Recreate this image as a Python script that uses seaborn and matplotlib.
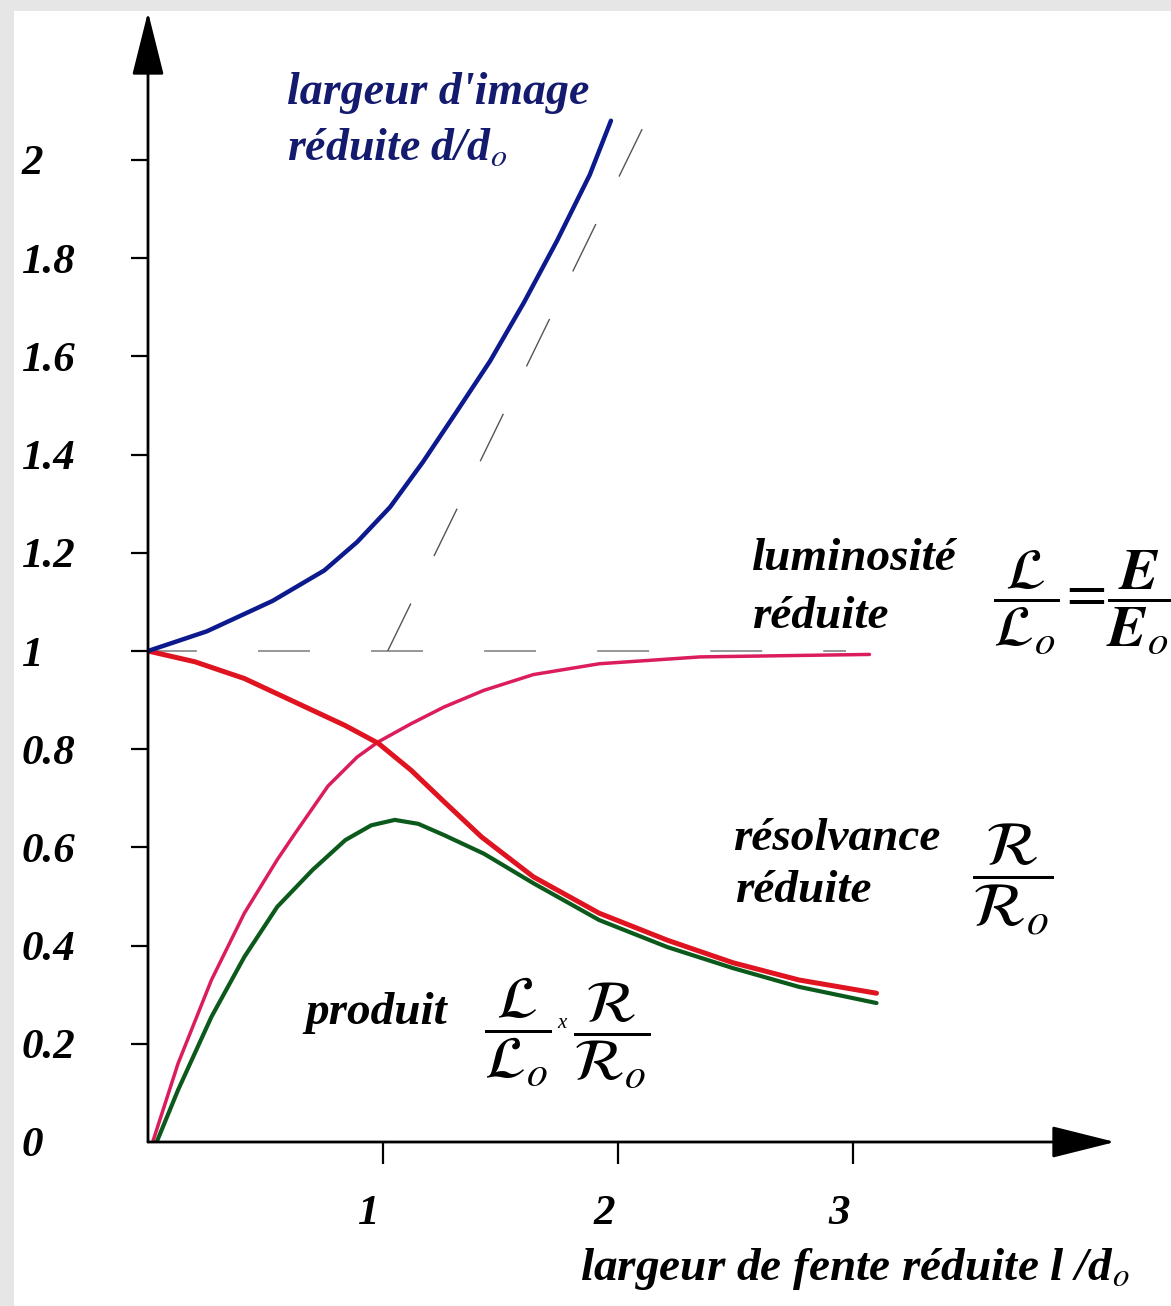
import numpy as np
import pandas as pd
import matplotlib
matplotlib.use("Agg")
import matplotlib.pyplot as plt
import matplotlib.transforms as mtransforms
from matplotlib.patches import Rectangle
from matplotlib.mathtext import MathTextParser
import seaborn as sns

# ---------------- data ----------------
x_largeur = [0.0, 0.25, 0.53, 0.75, 0.89, 1.03, 1.17, 1.31, 1.455, 1.60, 1.74, 1.88, 1.97]
y_largeur = [1.0, 1.04, 1.102, 1.164, 1.222, 1.293, 1.385, 1.485, 1.59, 1.71, 1.835, 1.97, 2.08]

x_lum = [0.02, 0.128, 0.27, 0.41, 0.55, 0.625, 0.766, 0.89, 0.98, 1.12, 1.26, 1.43, 1.64, 1.92, 2.35, 3.07]
y_lum = [0.0, 0.16, 0.33, 0.466, 0.575, 0.628, 0.725, 0.784, 0.815, 0.852, 0.886, 0.92, 0.952, 0.974, 0.988, 0.993]

x_res = [0.0, 0.2, 0.41, 0.625, 0.84, 0.98, 1.12, 1.26, 1.42, 1.64, 1.92, 2.21, 2.49, 2.77, 3.10]
y_res = [1.0, 0.978, 0.944, 0.896, 0.848, 0.812, 0.757, 0.693, 0.621, 0.54, 0.466, 0.411, 0.365, 0.33, 0.303]

x_prod = [0.037, 0.128, 0.27, 0.41, 0.55, 0.70, 0.84, 0.95, 1.05, 1.15, 1.26, 1.43, 1.64, 1.92, 2.21, 2.49, 2.77, 3.10]
y_prod = [0.0, 0.106, 0.255, 0.377, 0.479, 0.554, 0.615, 0.645, 0.656, 0.648, 0.625, 0.587, 0.527, 0.452, 0.397, 0.354, 0.316, 0.283]

x_horiz = [0.0, 2.97]
y_horiz = [1.0, 1.0]
x_asym = [1.02, 2.11]
y_asym = [1.0, 2.07]

x_ticks = [1, 2, 3]
x_ticklabels = ["1", "2", "3"]
y_ticks = [0, 0.2, 0.4, 0.6, 0.8, 1.0, 1.2, 1.4, 1.6, 1.8, 2.0]
y_ticklabels = ["0", "0.2", "0.4", "0.6", "0.8", "1", "1.2", "1.4", "1.6", "1.8", "2"]

# ---------------- style ----------------
sns.set_theme(style="white")
plt.rcParams["font.family"] = ["Liberation Serif", "DejaVu Serif"]
plt.rcParams["mathtext.fontset"] = "stix"

# bold-italic E if this matplotlib's mathtext supports it
bfE = r"\mathbf{E}"
try:
    MathTextParser("path").parse(r"$\mathbfit{E}$")
    bfE = r"\mathbfit{E}"
except Exception:
    pass

W, H = 1171, 1306
fig = plt.figure(figsize=(W / 100, H / 100), dpi=100)
fig.patch.set_facecolor("#e6e6e6")
fig.add_artist(Rectangle((14 / W, 0), 1, 1 - 11 / H, transform=fig.transFigure,
                         facecolor="white", edgecolor="none", zorder=-10))

x0_px, y0_px = 148, 1142
sx, sy = 235.0, 491.0
xr_px, yt_px = 1115, 12
ax = fig.add_axes([x0_px / W, 1 - y0_px / H, (xr_px - x0_px) / W, (y0_px - yt_px) / H])
xmax = (xr_px - x0_px) / sx
ymax = (y0_px - yt_px) / sy
ax.set_xlim(0, xmax)
ax.set_ylim(0, ymax)
ax.patch.set_alpha(0)
for s in ax.spines.values():
    s.set_visible(False)

# dashed guide lines
ax.plot(x_horiz, y_horiz, color="#7a7a7a", lw=1.1, linestyle=(2, (34, 40)), zorder=1)
ax.plot(x_asym, y_asym, color="#555555", lw=1.0, linestyle=(0, (38, 38)), zorder=1)

# curves
df_lum = pd.DataFrame({"x": x_lum, "y": y_lum})
df_prod = pd.DataFrame({"x": x_prod, "y": y_prod})
df_res = pd.DataFrame({"x": x_res, "y": y_res})
df_larg = pd.DataFrame({"x": x_largeur, "y": y_largeur})

line_kw = dict(solid_capstyle="round", solid_joinstyle="round")
sns.lineplot(data=df_lum, x="x", y="y", ax=ax, color="#dc1d5c", linewidth=2.5, zorder=3, **line_kw)
sns.lineplot(data=df_prod, x="x", y="y", ax=ax, color="#0b5a1c", linewidth=3.0, zorder=3, **line_kw)
sns.lineplot(data=df_res, x="x", y="y", ax=ax, color="#e01420", linewidth=3.6, zorder=4, **line_kw)
sns.lineplot(data=df_larg, x="x", y="y", ax=ax, color="#0c1a8e", linewidth=3.2, zorder=4, **line_kw)
ax.set_xlabel("")
ax.set_ylabel("")

# axes with arrows
arrow_kw = dict(arrowstyle="-|>,head_length=2.0,head_width=0.5", mutation_scale=20,
                color="black", lw=2.0, shrinkA=0, shrinkB=0)
ax.annotate("", xy=(xmax, 0), xytext=(0, 0), arrowprops=arrow_kw, annotation_clip=False, zorder=6)
ax.annotate("", xy=(0, ymax), xytext=(0, 0), arrowprops=arrow_kw, annotation_clip=False, zorder=6)

# ticks
tick_font = dict(family="Liberation Serif", weight="bold", style="italic", size=31)
ax.set_xticks(x_ticks)
ax.set_xticklabels(x_ticklabels, fontdict=tick_font, color="black")
ax.set_yticks(y_ticks)
ax.set_yticklabels(y_ticklabels, fontdict=tick_font, color="black")
ax.tick_params(axis="y", direction="out", length=12, width=1.6, pad=79, left=True, colors="black")
ax.tick_params(axis="x", direction="out", length=16, width=1.6, pad=22, bottom=True, colors="black")
for lab in ax.get_yticklabels():
    lab.set_horizontalalignment("left")
offx = mtransforms.ScaledTranslation(-14 / 100, 0, fig.dpi_scale_trans)
for lab in ax.get_xticklabels():
    lab.set_transform(lab.get_transform() + offx)
ax.yaxis.get_major_ticks()[0].tick1line.set_visible(False)


def ftxt(px, py, s, **kw):
    fig.text(px / W, 1 - py / H, s, **kw)


lab_font = dict(family="Liberation Serif", weight="bold", style="italic", size=34)
blue_font = dict(family="Liberation Serif", weight="bold", style="italic", size=33)
navy = "#141a6e"
ftxt(287, 104, "largeur d'image", color=navy, va="baseline", **blue_font)
ftxt(287, 160, "réduite d/d$_{o}$", color=navy, va="baseline", **blue_font)

ftxt(752, 570, "luminosité", color="black", va="baseline", **lab_font)
ftxt(752, 628, "réduite", color="black", va="baseline", **lab_font)
ftxt(993, 602, r"$\dfrac{\mathcal{L}}{\mathcal{L}_o}\!=\!\dfrac{" + bfE + "}{" + bfE + "_o}$",
     color="black", va="center", ha="left", size=42)

ftxt(733, 850, "résolvance", color="black", va="baseline", **lab_font)
ftxt(735, 902, "réduite", color="black", va="baseline", **lab_font)
ftxt(972, 880, r"$\dfrac{\mathcal{R}}{\mathcal{R}_o}$", color="black", va="center", ha="left", size=45)

ftxt(305, 1024, "produit", color="black", va="baseline", **lab_font)
ftxt(484, 1032, r"$\dfrac{\mathcal{L}}{\mathcal{L}_o}$", color="black", va="center", ha="left", size=43)
ftxt(557, 1028, "x", color="black", va="baseline", family="Liberation Serif", style="italic", size=15)
ftxt(573, 1036, r"$\dfrac{\mathcal{R}}{\mathcal{R}_o}$", color="black", va="center", ha="left", size=43)

ftxt(580, 1280, "largeur de fente réduite l /d$_{o}$", color="black", va="baseline", **lab_font)

fig.savefig("out.png", dpi=100, facecolor=fig.get_facecolor())
